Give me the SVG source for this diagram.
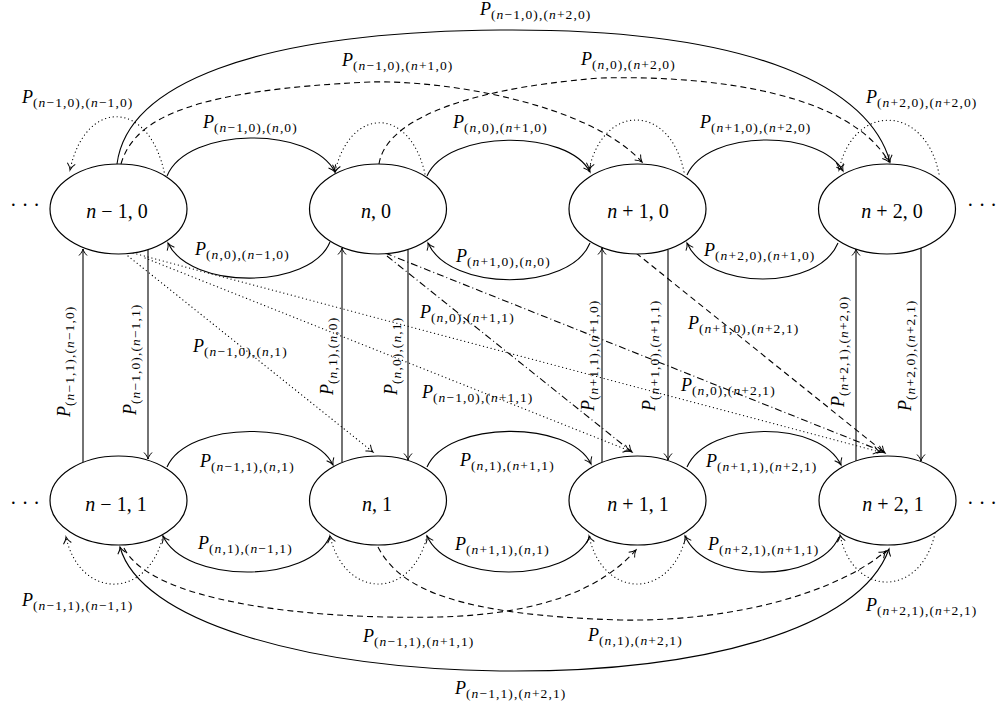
<svg xmlns="http://www.w3.org/2000/svg" width="996" height="706" viewBox="0 0 996 706">
<defs>
<marker id="ar" viewBox="-8 -5 10 10" refX="0" refY="0" markerWidth="10" markerHeight="10" markerUnits="userSpaceOnUse" orient="auto">
<path d="M-6.5,-4 C-4,-1.5 -1.5,-0.4 0,0 C-1.5,0.4 -4,1.5 -6.5,4" fill="none" stroke="#000" stroke-width="1"/>
</marker>
<marker id="ars" viewBox="-8 -5 10 10" refX="0" refY="0" markerWidth="10" markerHeight="10" markerUnits="userSpaceOnUse" orient="auto-start-reverse">
<path d="M-6.5,-4 C-4,-1.5 -1.5,-0.4 0,0 C-1.5,0.4 -4,1.5 -6.5,4" fill="none" stroke="#000" stroke-width="1"/>
</marker>
</defs>
<style>
.c{fill:none;stroke:#000;stroke-width:1.1}
.dot{stroke-dasharray:0.1 3.8;stroke-linecap:round;stroke-width:1.2}
.dash{stroke-dasharray:6 4}
.dd{stroke-dasharray:7 3 1 3}
.nd{fill:#fff;stroke:#000;stroke-width:1.2}
text{font-family:"Liberation Serif","Times New Roman",serif;fill:#000}
.lb{font-size:18px}
.i{font-style:italic}
.sb{font-size:13.5px;letter-spacing:1.1px}
.nt{font-size:20px;text-anchor:middle}
.dots{font-size:20px}
</style>
<rect width="996" height="706" fill="#fff"/>

<g id="connectors">
<!-- top row short arcs -->
<path class="c" marker-end="url(#ar)" d="M167,176 C188,126 312,126 335,172"/>
<path class="c" marker-end="url(#ar)" d="M427,176 C448,129 568,129 590,172"/>
<path class="c" marker-end="url(#ar)" d="M687,175 C708,129 820,129 843,171"/>
<path class="c" marker-end="url(#ar)" d="M330,242 C310,290 190,290 168,243"/>
<path class="c" marker-end="url(#ar)" d="M590,243 C570,292 450,292 428,243"/>
<path class="c" marker-end="url(#ar)" d="M838,243 C818,291 708,291 687,243"/>
<!-- bottom row short arcs -->
<path class="c" marker-end="url(#ar)" d="M167,467 C188,420 312,420 333,465"/>
<path class="c" marker-end="url(#ar)" d="M427,467 C448,420 570,420 591,464"/>
<path class="c" marker-end="url(#ar)" d="M687,467 C708,420 820,420 841,465"/>
<path class="c" marker-end="url(#ar)" d="M330,536 C310,584 185,584 163,536"/>
<path class="c" marker-end="url(#ar)" d="M590,536 C570,584 448,584 427,536"/>
<path class="c" marker-end="url(#ar)" d="M839,537 C818,584 706,584 685,536"/>
<!-- self loops -->
<path class="c dot" marker-end="url(#ar)" d="M165,176 C150,98 85,98 70,170"/>
<path class="c dot" marker-end="url(#ar)" d="M425,174 C410,106 350,106 335,172"/>
<path class="c dot" marker-end="url(#ar)" d="M684,172 C670,103 603,103 589,170"/>
<path class="c dot" marker-end="url(#ar)" d="M939,174 C925,103 853,103 839,170"/>
<path class="c dot" marker-end="url(#ar)" d="M163,536 C148,600 80,600 66,537"/>
<path class="c dot" marker-end="url(#ar)" d="M427,536 C412,600 345,600 330,536"/>
<path class="c dot" marker-end="url(#ar)" d="M686,536 C671,600 603,600 589,536"/>
<path class="c dot" marker-end="url(#ar)" d="M935,533 C921,598 853,598 840,535"/>
<!-- verticals -->
<path class="c" marker-end="url(#ar)" d="M83,462 L83,249"/>
<path class="c" marker-end="url(#ar)" d="M148,250 L148,459"/>
<path class="c" marker-end="url(#ar)" d="M342,462 L342,248"/>
<path class="c" marker-end="url(#ar)" d="M408,250 L408,460"/>
<path class="c" marker-end="url(#ar)" d="M602,462 L602,248"/>
<path class="c" marker-end="url(#ar)" d="M668,250 L668,460"/>
<path class="c" marker-end="url(#ar)" d="M856,461 L856,249"/>
<path class="c" marker-end="url(#ar)" d="M921,248 L921,461"/>
<!-- long arcs top -->
<path class="c" marker-end="url(#ar)" d="M117,164 C127,86 250,32 500,30 C760,28 870,90 890,162"/>
<path class="c dash" marker-end="url(#ar)" d="M121,164 C135,115 200,90 370,82 C450,80 590,105 642,162"/>
<path class="c dash" marker-end="url(#ar)" d="M379,164 C385,125 450,90 600,78 C720,75 850,95 889,162"/>
<!-- long arcs bottom -->
<path class="c" marker-start="url(#ars)" marker-end="url(#ar)" d="M120,547 C140,620 300,668 500,671 C700,673 860,630 889,549"/>
<path class="c dash" marker-end="url(#ar)" d="M124,548 C150,600 300,620 440,617 C540,614 600,590 636,550"/>
<path class="c dash" marker-end="url(#ar)" d="M378,547 C400,590 460,615 620,620 C740,622 840,590 886,551"/>
<!-- diagonals -->
<path class="c dot" marker-end="url(#ar)" d="M133,253 L880,452"/>
<path class="c dot" marker-end="url(#ar)" d="M145,258 L630,451"/>
<path class="c dot" marker-end="url(#ar)" d="M128,256 L373,452"/>
<path class="c dd" marker-end="url(#ar)" d="M385,253 L884,452"/>
<path class="c dd" marker-end="url(#ar)" d="M387,256 L632,452"/>
<path class="c dash" marker-end="url(#ar)" d="M636,253 L885,453"/>

<!-- labels -->
<text class="lb" x="480" y="15"><tspan class="i">P</tspan><tspan class="sb" dy="4">(<tspan class="i">n</tspan>−1,0),(<tspan class="i">n</tspan>+2,0)</tspan></text>
<text class="lb" x="342" y="66"><tspan class="i">P</tspan><tspan class="sb" dy="4">(<tspan class="i">n</tspan>−1,0),(<tspan class="i">n</tspan>+1,0)</tspan></text>
<text class="lb" x="581" y="65"><tspan class="i">P</tspan><tspan class="sb" dy="4">(<tspan class="i">n</tspan>,0),(<tspan class="i">n</tspan>+2,0)</tspan></text>
<text class="lb" x="22" y="103"><tspan class="i">P</tspan><tspan class="sb" dy="4">(<tspan class="i">n</tspan>−1,0),(<tspan class="i">n</tspan>−1,0)</tspan></text>
<text class="lb" x="866" y="103"><tspan class="i">P</tspan><tspan class="sb" dy="4">(<tspan class="i">n</tspan>+2,0),(<tspan class="i">n</tspan>+2,0)</tspan></text>
<text class="lb" x="203" y="128"><tspan class="i">P</tspan><tspan class="sb" dy="4">(<tspan class="i">n</tspan>−1,0),(<tspan class="i">n</tspan>,0)</tspan></text>
<text class="lb" x="453" y="128"><tspan class="i">P</tspan><tspan class="sb" dy="4">(<tspan class="i">n</tspan>,0),(<tspan class="i">n</tspan>+1,0)</tspan></text>
<text class="lb" x="700" y="128"><tspan class="i">P</tspan><tspan class="sb" dy="4">(<tspan class="i">n</tspan>+1,0),(<tspan class="i">n</tspan>+2,0)</tspan></text>
<text class="lb" x="195" y="255"><tspan class="i">P</tspan><tspan class="sb" dy="4">(<tspan class="i">n</tspan>,0),(<tspan class="i">n</tspan>−1,0)</tspan></text>
<text class="lb" x="456" y="262"><tspan class="i">P</tspan><tspan class="sb" dy="4">(<tspan class="i">n</tspan>+1,0),(<tspan class="i">n</tspan>,0)</tspan></text>
<text class="lb" x="704" y="256"><tspan class="i">P</tspan><tspan class="sb" dy="4">(<tspan class="i">n</tspan>+2,0),(<tspan class="i">n</tspan>+1,0)</tspan></text>

<text class="lb" transform="translate(70,417) rotate(-90)"><tspan class="i">P</tspan><tspan class="sb" dy="4">(<tspan class="i">n</tspan>−1,1),(<tspan class="i">n</tspan>−1,0)</tspan></text>
<text class="lb" transform="translate(136,415) rotate(-90)"><tspan class="i">P</tspan><tspan class="sb" dy="4">(<tspan class="i">n</tspan>−1,0),(<tspan class="i">n</tspan>−1,1)</tspan></text>
<text class="lb" transform="translate(333,395) rotate(-90)"><tspan class="i">P</tspan><tspan class="sb" dy="4">(<tspan class="i">n</tspan>,1),(<tspan class="i">n</tspan>,0)</tspan></text>
<text class="lb" transform="translate(397,395) rotate(-90)"><tspan class="i">P</tspan><tspan class="sb" dy="4">(<tspan class="i">n</tspan>,0),(<tspan class="i">n</tspan>,1)</tspan></text>
<text class="lb" transform="translate(594,411) rotate(-90)"><tspan class="i">P</tspan><tspan class="sb" dy="4">(<tspan class="i">n</tspan>+1,1),(<tspan class="i">n</tspan>+1,0)</tspan></text>
<text class="lb" transform="translate(655,411) rotate(-90)"><tspan class="i">P</tspan><tspan class="sb" dy="4">(<tspan class="i">n</tspan>+1,0),(<tspan class="i">n</tspan>+1,1)</tspan></text>
<text class="lb" transform="translate(844,407) rotate(-90)"><tspan class="i">P</tspan><tspan class="sb" dy="4">(<tspan class="i">n</tspan>+2,1),(<tspan class="i">n</tspan>+2,0)</tspan></text>
<text class="lb" transform="translate(911,411) rotate(-90)"><tspan class="i">P</tspan><tspan class="sb" dy="4">(<tspan class="i">n</tspan>+2,0),(<tspan class="i">n</tspan>+2,1)</tspan></text>

<text class="lb" x="193" y="352"><tspan class="i">P</tspan><tspan class="sb" dy="4">(<tspan class="i">n</tspan>−1,0),(<tspan class="i">n</tspan>,1)</tspan></text>
<text class="lb" x="420" y="318"><tspan class="i">P</tspan><tspan class="sb" dy="4">(<tspan class="i">n</tspan>,0),(<tspan class="i">n</tspan>+1,1)</tspan></text>
<text class="lb" x="422" y="398"><tspan class="i">P</tspan><tspan class="sb" dy="4">(<tspan class="i">n</tspan>−1,0),(<tspan class="i">n</tspan>+1,1)</tspan></text>
<text class="lb" x="688" y="329"><tspan class="i">P</tspan><tspan class="sb" dy="4">(<tspan class="i">n</tspan>+1,0),(<tspan class="i">n</tspan>+2,1)</tspan></text>
<text class="lb" x="681" y="391"><tspan class="i">P</tspan><tspan class="sb" dy="4">(<tspan class="i">n</tspan>,0),(<tspan class="i">n</tspan>+2,1)</tspan></text>

<text class="lb" x="200" y="467"><tspan class="i">P</tspan><tspan class="sb" dy="4">(<tspan class="i">n</tspan>−1,1),(<tspan class="i">n</tspan>,1)</tspan></text>
<text class="lb" x="460" y="466"><tspan class="i">P</tspan><tspan class="sb" dy="4">(<tspan class="i">n</tspan>,1),(<tspan class="i">n</tspan>+1,1)</tspan></text>
<text class="lb" x="706" y="467"><tspan class="i">P</tspan><tspan class="sb" dy="4">(<tspan class="i">n</tspan>+1,1),(<tspan class="i">n</tspan>+2,1)</tspan></text>
<text class="lb" x="198" y="549"><tspan class="i">P</tspan><tspan class="sb" dy="4">(<tspan class="i">n</tspan>,1),(<tspan class="i">n</tspan>−1,1)</tspan></text>
<text class="lb" x="455" y="550"><tspan class="i">P</tspan><tspan class="sb" dy="4">(<tspan class="i">n</tspan>+1,1),(<tspan class="i">n</tspan>,1)</tspan></text>
<text class="lb" x="708" y="550"><tspan class="i">P</tspan><tspan class="sb" dy="4">(<tspan class="i">n</tspan>+2,1),(<tspan class="i">n</tspan>+1,1)</tspan></text>
<text class="lb" x="22" y="606"><tspan class="i">P</tspan><tspan class="sb" dy="4">(<tspan class="i">n</tspan>−1,1),(<tspan class="i">n</tspan>−1,1)</tspan></text>
<text class="lb" x="866" y="611"><tspan class="i">P</tspan><tspan class="sb" dy="4">(<tspan class="i">n</tspan>+2,1),(<tspan class="i">n</tspan>+2,1)</tspan></text>
<text class="lb" x="363" y="642"><tspan class="i">P</tspan><tspan class="sb" dy="4">(<tspan class="i">n</tspan>−1,1),(<tspan class="i">n</tspan>+1,1)</tspan></text>
<text class="lb" x="588" y="641"><tspan class="i">P</tspan><tspan class="sb" dy="4">(<tspan class="i">n</tspan>,1),(<tspan class="i">n</tspan>+2,1)</tspan></text>
<text class="lb" x="455" y="694"><tspan class="i">P</tspan><tspan class="sb" dy="4">(<tspan class="i">n</tspan>−1,1),(<tspan class="i">n</tspan>+2,1)</tspan></text>
</g>

<g id="n_m1_0"><ellipse class="nd" cx="118.5" cy="209" rx="68.5" ry="45"/><text class="nt" x="117" y="218"><tspan class="i">n</tspan> − 1, 0</text></g>
<g id="n_0_0"><ellipse class="nd" cx="378" cy="209" rx="68.5" ry="45"/><text class="nt" x="376" y="218"><tspan class="i">n</tspan>, 0</text></g>
<g id="n_p1_0"><ellipse class="nd" cx="637.5" cy="209" rx="68.5" ry="45"/><text class="nt" x="638" y="218"><tspan class="i">n</tspan> + 1, 0</text></g>
<g id="n_p2_0"><ellipse class="nd" cx="887" cy="209" rx="68.5" ry="45"/><text class="nt" x="892" y="218"><tspan class="i">n</tspan> + 2, 0</text></g>
<g id="n_m1_1"><ellipse class="nd" cx="118.5" cy="500.5" rx="68.5" ry="44.5"/><text class="nt" x="116" y="511"><tspan class="i">n</tspan> − 1, 1</text></g>
<g id="n_0_1"><ellipse class="nd" cx="378" cy="500.5" rx="68.5" ry="44.5"/><text class="nt" x="377" y="511"><tspan class="i">n</tspan>, 1</text></g>
<g id="n_p1_1"><ellipse class="nd" cx="637.5" cy="500.5" rx="68.5" ry="44.5"/><text class="nt" x="638" y="511"><tspan class="i">n</tspan> + 1, 1</text></g>
<g id="n_p2_1"><ellipse class="nd" cx="887.5" cy="500.5" rx="68.5" ry="44.5"/><text class="nt" x="893" y="511"><tspan class="i">n</tspan> + 2, 1</text></g>

<g id="ellipsis">
<text class="dots" x="10" y="212">· · ·</text>
<text class="dots" x="967" y="212">· · ·</text>
<text class="dots" x="10" y="510">· · ·</text>
<text class="dots" x="967" y="510">· · ·</text>
</g>
</svg>
